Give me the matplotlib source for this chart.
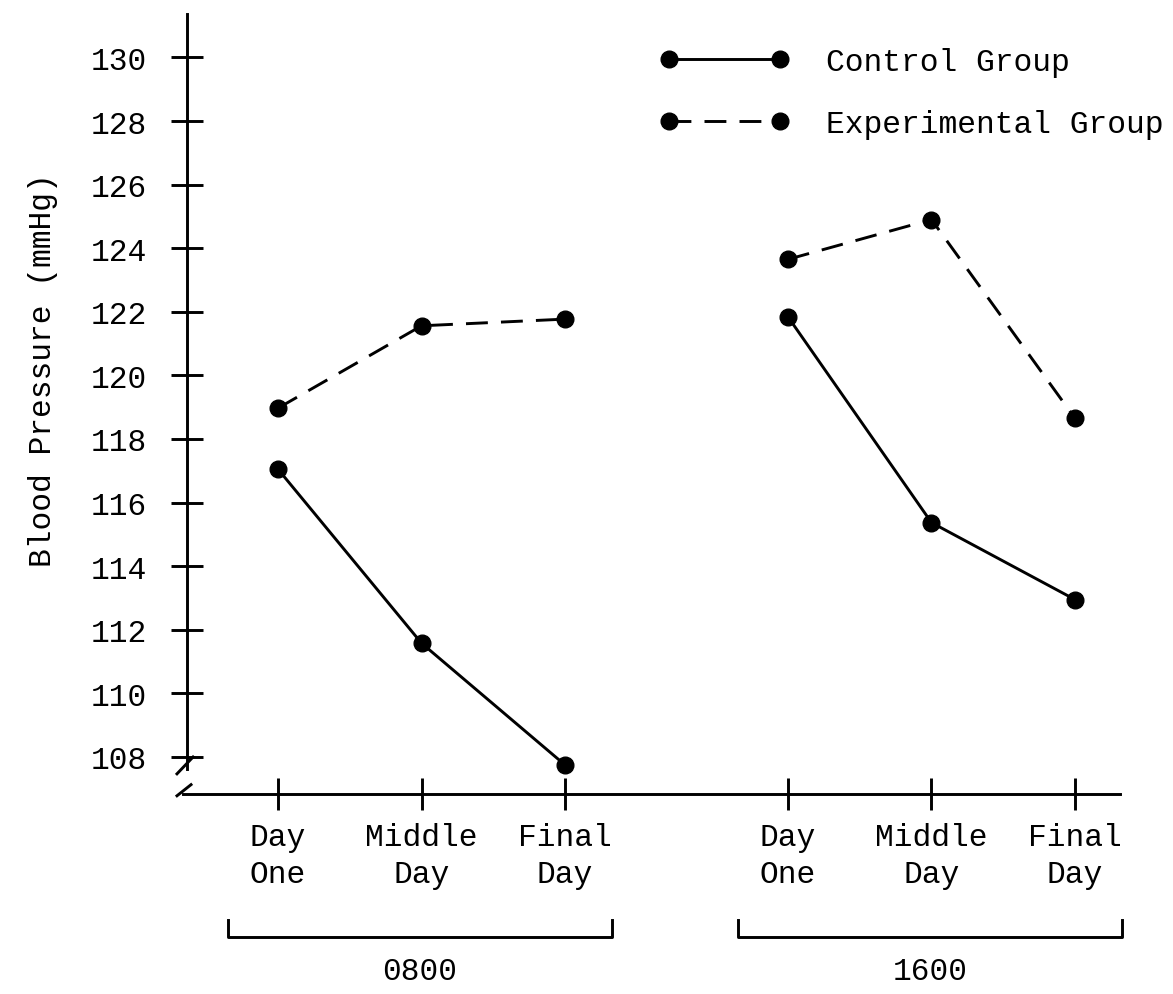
import matplotlib
matplotlib.use("Agg")
import matplotlib.pyplot as plt
from matplotlib.lines import Line2D
import matplotlib.transforms as mtransforms

# ---- data ----
days = ["Day\nOne", "Middle\nDay", "Final\nDay"]
times = ["0800", "1600"]
control_0800 = [117.05, 111.58, 107.75]
control_1600 = [121.84, 115.37, 112.95]
experimental_0800 = [118.97, 121.56, 121.77]
experimental_1600 = [123.65, 124.90, 118.65]
yticks = [108, 110, 112, 114, 116, 118, 120, 122, 124, 126, 128, 130]

FONT = "Liberation Mono"
FS = 22.5
GROUP_OFFSET = 3.554
LW = 2.1

plt.rcParams["font.family"] = [FONT, "DejaVu Sans"]

fig = plt.figure(figsize=(11.73, 9.95), dpi=100)
ax = fig.add_axes([175 / 1173, 1 - 795 / 995, 945 / 1173, 780 / 995])

xs0 = [i for i in range(len(days))]
xs1 = [i + GROUP_OFFSET for i in range(len(days))]

line_kw = dict(color="black", lw=LW, marker="o", ms=12, solid_capstyle="butt")
dash = (0, (7.5, 4.5))

ax.plot(xs0, control_0800, ls="-", **line_kw)
ax.plot(xs1, control_1600, ls="-", **line_kw)
ax.plot(xs0, experimental_0800, ls=dash, **line_kw)
ax.plot(xs1, experimental_1600, ls=dash, **line_kw)

ax.set_xlim(-0.7178, 5.8676)
ax.set_ylim(106.836, 131.365)

# spines
for s in ["top", "right"]:
    ax.spines[s].set_visible(False)
ax.spines["left"].set_position(("data", -0.634))
ax.spines["left"].set_bounds(107.62, 131.365)
ax.spines["bottom"].set_bounds(-0.665, 5.8676)
for s in ["left", "bottom"]:
    ax.spines[s].set_linewidth(LW)

ax.set_yticks(yticks)
ax.set_yticklabels([str(v) for v in yticks])
ax.set_xticks(xs0 + xs1)
ax.set_xticklabels(days + days, linespacing=1.3)
ax.tick_params(axis="both", direction="inout", length=23, width=LW,
               labelsize=FS, color="black")
ax.tick_params(axis="y", pad=17)
ax.tick_params(axis="x", pad=9)

# axis break marks
ax.plot([-0.704, -0.592], [107.47, 108.0], color="black", lw=LW, clip_on=False)
ax.plot([-0.704, -0.606], [106.78, 107.13], color="black", lw=LW, clip_on=False)

# y label
ax.set_ylabel("Blood Pressure (mmHg)", fontsize=FS)
ax.yaxis.set_label_coords(-0.124, 0.545)

# group brackets
trans = mtransforms.blended_transform_factory(ax.transData, ax.transAxes)
for xs, lab in zip([xs0, xs1], times):
    left = xs[0] - 0.35
    right = xs[-1] + 0.33
    ax.plot([left, left, right, right], [-0.162, -0.1833, -0.1833, -0.162],
            color="black", lw=LW, transform=trans, clip_on=False)
    ax.text((left + right) / 2, -0.227, lab, transform=trans, ha="center",
            va="center", fontsize=FS)

# legend
handles = [
    Line2D([], [], color="black", lw=LW, marker="o", ms=12, ls="-"),
    Line2D([], [], color="black", lw=LW, marker="o", ms=12, ls=dash),
]
ax.legend(handles, ["Control Group", "Experimental Group"], numpoints=2,
          frameon=False, loc="upper left",
          bbox_to_anchor=(660 / 1173, 1 - 48 / 995),
          bbox_transform=fig.transFigure, borderpad=0, borderaxespad=0,
          handlelength=4.15, handletextpad=1.15, labelspacing=1.02,
          fontsize=FS)

fig.savefig("out.png", dpi=100)
